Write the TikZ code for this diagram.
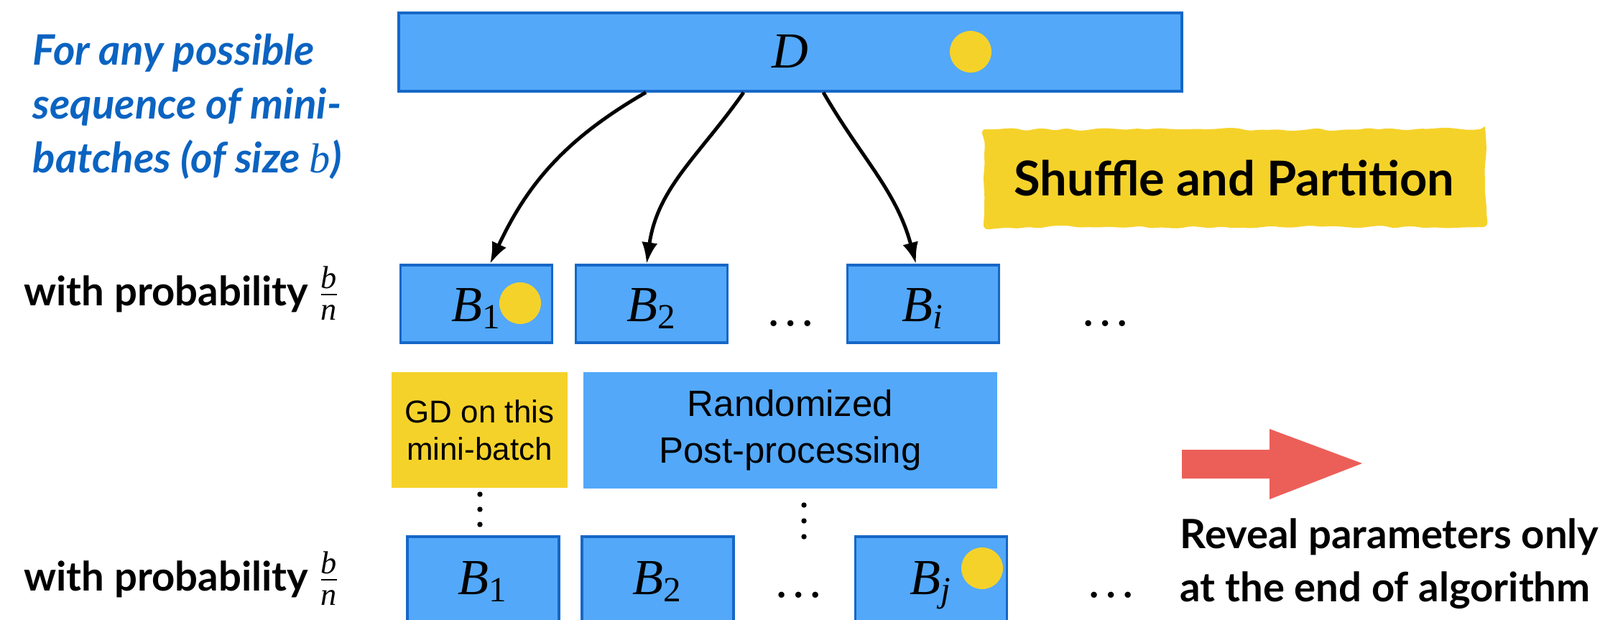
\documentclass[tikz,border=0pt]{standalone}
\usepackage{amsmath}
\usepackage{fontspec}
\setmainfont{Lato}
\newfontfamily\helv{Liberation Sans}
\newfontfamily\tms{Liberation Serif}
\usetikzlibrary{arrows.meta,decorations.pathmorphing}

\newcommand{\tv}[1]{\text{\tms\mdseries\itshape #1}}
\newcommand{\tn}[1]{\text{\tms\mdseries\upshape #1}}

\begin{document}
\begin{tikzpicture}

\definecolor{batchblue}{HTML}{53A8F9}
\definecolor{edgeblue}{HTML}{1667C7}
\definecolor{pickyellow}{HTML}{F5D22A}
\definecolor{noteblue}{HTML}{0B63C1}
\definecolor{revealred}{HTML}{EC5F59}

\tikzset{
  batch/.style={draw=edgeblue, line width=0.9pt, fill=batchblue, inner sep=0pt,
    minimum width=2.11cm, anchor=base, font=\fontsize{20}{24}\selectfont},
  pick/.style={circle, fill=pickyellow, minimum size=0.58cm, inner sep=0pt},
  procbox/.style={fill=#1, inner sep=0pt, align=center},
  bold/.style={inner sep=0pt, font=\fontsize{16}{21}\selectfont\bfseries},
  gapdots/.style={inner sep=0pt, anchor=base, font=\tms\fontsize{20}{24}\selectfont},
  flow/.style={-{Latex[length=0.3cm,width=0.22cm]}, line width=1.4pt},
}

\def \rowone {-4.47}
\def \rowtwo {-8.27}
\newcommand{\bovern}{{\fontsize{18}{21}\selectfont$\frac{\tv{b}}{\tv{n}}$}}

\clip (0,0) rectangle (22.27,-8.62);

% Data set
\node (data) at (11.00,-0.94) [batch, minimum width=10.90cm, text height=0.76cm, text depth=0.33cm] {$\tv{D}$};
\node (pick0) at (13.51,-0.72) [pick] {};

% First sequence of mini-batches
\foreach \x/\name/\lab in {6.63/1/\tn{1}, 9.07/2/\tn{2}, 12.85/i/\tv{i}} {
  \node (one\name) at (\x,\rowone) [batch, text height=0.78cm, text depth=0.30cm] {$\tv{B}_{\lab}$};
}
\node (pick1) at (7.24,-4.22) [pick] {};
\node (gap1) at (11.01,-4.53) [gapdots] {…};
\node (gap2) at (15.39,-4.53) [gapdots] {…};

% Partition arrows
\draw [flow] ([xshift=-2.01cm]data.south) to[out=-150,in=65] ([xshift=0.19cm]one1.north);
\draw [flow] ([xshift=-0.65cm]data.south) to[out=-125,in=82] ([xshift=-0.07cm]one2.north);
\draw [flow] ([xshift=0.46cm]data.south) to[out=-60,in=105] ([xshift=-0.10cm]onei.north);

\node (shuffle) at (17.18,-2.48) [fill=pickyellow, minimum width=6.98cm, minimum height=1.36cm,
  decorate, decoration={random steps, segment length=4pt, amplitude=0.7pt}, rounded corners=2pt,
  font=\fontsize{19}{23}\selectfont\bfseries] {Shuffle and Partition};

% Processing steps
\node (gd) at (6.675,-5.985) [procbox=pickyellow, minimum width=2.45cm, minimum height=1.61cm,
  font=\helv\fontsize{12.5}{14.7}\selectfont] {GD on this\\mini-batch};
\node (post) at (11.00,-5.99) [procbox=batchblue, minimum width=5.76cm, minimum height=1.62cm,
  font=\helv\fontsize{14.5}{18.4}\selectfont] {Randomized\\Post-processing};

\foreach \y in {6.88, 7.09, 7.30}
  \fill (6.68,-\y) circle (0.037);
\foreach \y in {7.03, 7.25, 7.47}
  \fill (11.19,-\y) circle (0.037);

% Second sequence of mini-batches
\foreach \x/\name/\lab in {6.725/1/\tn{1}, 9.155/2/\tn{2}, 12.96/j/\tv{j}} {
  \node (two\name) at (\x,\rowtwo) [batch, text height=0.80cm, text depth=0.55cm] {$\tv{B}_{\lab}$};
}
\node (pick2) at (13.67,-7.91) [pick] {};
\node (gap3) at (11.12,-8.31) [gapdots] {…};
\node (gap4) at (15.47,-8.31) [gapdots] {…};

% Side labels
\node (anyseq) at (0.45,-2.40) [anchor=base west, align=left, inner sep=0pt, text=noteblue,
  font=\fontsize{16.6}{21.3}\selectfont\bfseries\itshape] {For any possible\\sequence of mini-\\batches (of size $\tv{b}$)};
\node (probone) at (4.74,-4.25) [anchor=base east, bold] {with probability \bovern};
\node (probtwo) at (4.74,-8.22) [anchor=base east, bold] {with probability \bovern};

% Reveal
\fill [revealred] (16.45,-6.26) -- (17.67,-6.26) -- (17.67,-5.97) -- (18.96,-6.45)
  -- (17.67,-6.95) -- (17.67,-6.66) -- (16.45,-6.66) -- cycle;
\node (reveal) at (16.42,-8.37) [anchor=base west, align=left, bold] {Reveal parameters only\\at the end of algorithm};

\end{tikzpicture}
\end{document}
